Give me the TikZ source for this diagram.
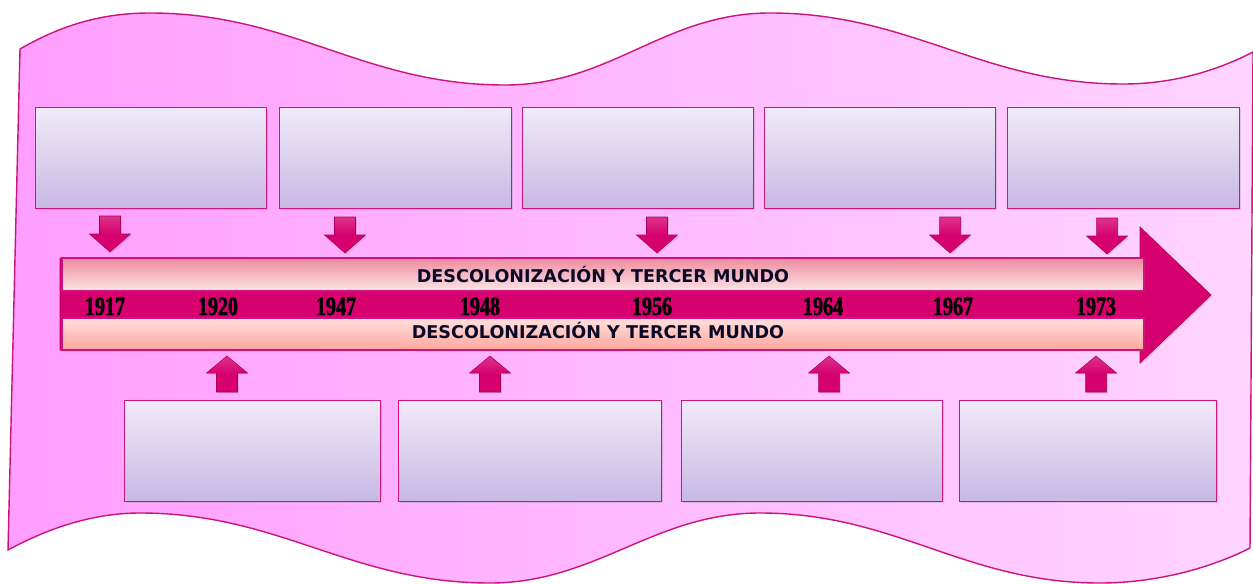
\documentclass[tikz,border=0pt]{standalone}
\usepackage{fontspec}
\newfontfamily\barfont{DejaVu Sans}
\newfontfamily\yearfont[FakeStretch=0.76,BoldFeatures={FakeBold=1.6}]{Liberation Serif}
\usetikzlibrary{shadows}
\definecolor{deeppink}{RGB}{214,0,110}
\definecolor{edgepink}{RGB}{205,20,120}
\definecolor{wavel}{RGB}{255,158,255}
\definecolor{waver}{RGB}{255,212,255}
\definecolor{boxtop}{RGB}{240,234,248}
\definecolor{boxbot}{RGB}{200,184,228}
\definecolor{upt}{RGB}{238,140,160}
\definecolor{upb}{RGB}{252,228,230}
\definecolor{lot}{RGB}{255,224,222}
\definecolor{lob}{RGB}{255,166,156}
\definecolor{txt}{RGB}{10,10,40}
\tikzset{
  evbox/.style={draw=edgepink, line width=0.8pt, top color=boxtop, bottom color=boxbot,
    anchor=north west, minimum height=2.02cm, inner sep=0pt,
    drop shadow={opacity=0.25, shadow xshift=0.6pt, shadow yshift=-0.6pt}},
  barstrip/.style={draw=edgepink, line width=0.6pt},
  bartext/.style={font=\barfont\bfseries\fontsize{10}{12}\selectfont, text=txt, anchor=base, inner sep=0pt},
  yeartext/.style={font=\yearfont\bfseries\fontsize{15}{16}\selectfont, text=black, anchor=base, inner sep=0pt},
  blockarrow/.style={top color=deeppink!80!white, bottom color=deeppink, middle color=deeppink, draw=deeppink!80!black, line width=0.3pt,
    drop shadow={opacity=0.25, shadow xshift=0.8pt, shadow yshift=-0.8pt}},
  pics/downarr/.style={code={
    \path[blockarrow] (-10.5,0) -- (10.5,0) -- (10.5,18) -- (20.5,18) -- (0,36) -- (-20.5,18) -- (-10.5,18) -- cycle;}},
  pics/uparr/.style={code={
    \path[blockarrow] (-10.5,0) -- (10.5,0) -- (10.5,-19) -- (20.5,-19) -- (0,-36) -- (-20.5,-19) -- (-10.5,-19) -- cycle;}}
}
\begin{document}
\begin{tikzpicture}[x=0.02cm,y=-0.02cm]
\useasboundingbox (0,0) rectangle (1253,584);
% wavy banner
\draw[draw=edgepink, line width=0.8pt, left color=wavel, right color=waver]
  (20,49) .. controls (60,26) and (100,13) .. (150,13)
  .. controls (292,13) and (363,85) .. (505,85)
  .. controls (611,85) and (664,13) .. (770,13)
  .. controls (911,13) and (982,84) .. (1123,84)
  .. controls (1178,84) and (1222,68) .. (1253,52)
  -- (1250,548)
  .. controls (1215,566) and (1160,583) .. (1100,583)
  .. controls (964,583) and (896,513) .. (760,513)
  .. controls (654,513) and (596,583) .. (490,583)
  .. controls (350,583) and (280,513) .. (140,513)
  .. controls (90,513) and (45,530) .. (8,550)
  -- cycle;
% top boxes
\node[evbox, minimum width=4.62cm] (t1) at (35,107) {};
\node[evbox, minimum width=4.64cm] (t2) at (279,107) {};
\node[evbox, minimum width=4.62cm] (t3) at (522,107) {};
\node[evbox, minimum width=4.62cm] (t4) at (764,107) {};
\node[evbox, minimum width=4.64cm] (t5) at (1007,107) {};
% bottom boxes
\node[evbox, minimum width=5.12cm] (b1) at (124,400) {};
\node[evbox, minimum width=5.26cm] (b2) at (398,400) {};
\node[evbox, minimum width=5.22cm] (b3) at (681,400) {};
\node[evbox, minimum width=5.14cm] (b4) at (959,400) {};
% main timeline arrow
\path[fill=deeppink, draw=deeppink!85!black, line width=0.4pt,
  drop shadow={opacity=0.25, shadow xshift=0.8pt, shadow yshift=-0.8pt}]
  (60,258) -- (1140,258) -- (1140,227) -- (1211,295) -- (1140,363) -- (1140,350) -- (60,350) -- cycle;
\path[barstrip, top color=upt, bottom color=upb] (62,258) rectangle (1144,291);
\path[barstrip, top color=lot, bottom color=lob] (62,318) rectangle (1144,350);
\node[bartext] (lab1) at (603,282) {DESCOLONIZACIÓN Y TERCER MUNDO};
\node[bartext] (lab2) at (598,338) {DESCOLONIZACIÓN Y TERCER MUNDO};
% years
\node[yeartext] (y1917) at (105,315) {1917};
\node[yeartext] (y1920) at (218,315) {1920};
\node[yeartext] (y1947) at (336,315) {1947};
\node[yeartext] (y1948) at (480,315) {1948};
\node[yeartext] (y1956) at (652,315) {1956};
\node[yeartext] (y1964) at (823,315) {1964};
\node[yeartext] (y1967) at (953,315) {1967};
\node[yeartext] (y1973) at (1096,315) {1973};
% small arrows
\pic at (110,216) {downarr};
\pic at (345,217) {downarr};
\pic at (657,217) {downarr};
\pic at (950,217) {downarr};
\pic at (1107,218) {downarr};
\pic at (227,392) {uparr};
\pic at (490,392) {uparr};
\pic at (829,392) {uparr};
\pic at (1096,392) {uparr};
\end{tikzpicture}
\end{document}
